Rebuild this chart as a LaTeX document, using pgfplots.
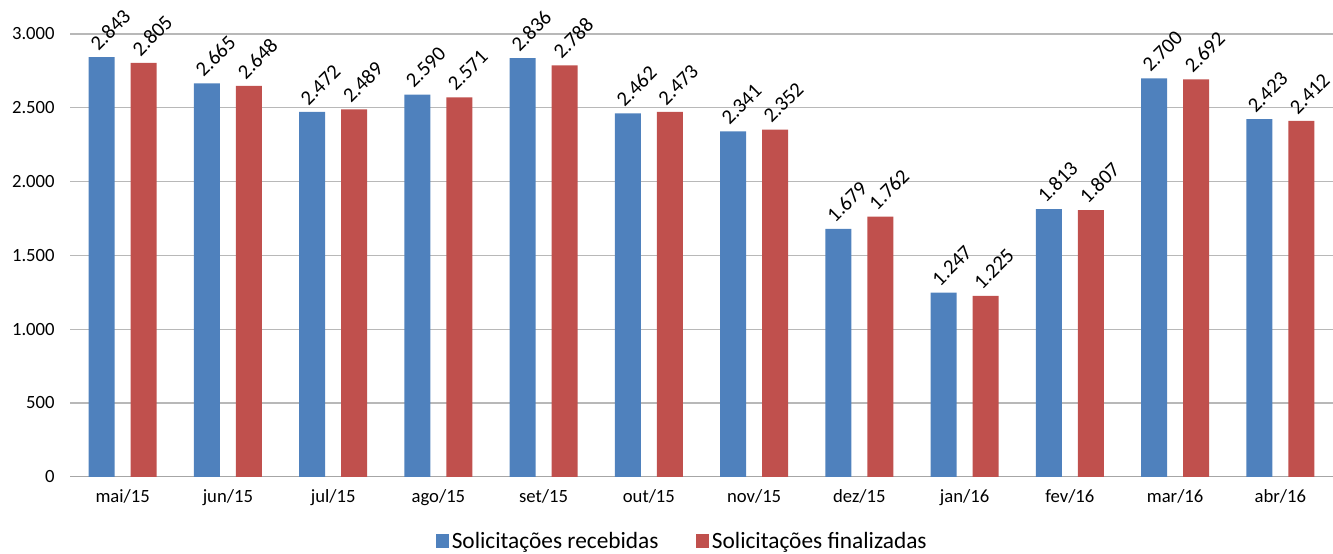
\documentclass[border=0pt]{standalone}
\usepackage{graphicx}
\usepackage{pgfplots}
\pgfplotsset{compat=1.18}
\usepackage{fontspec}
\setmainfont{Carlito}
\definecolor{cblue}{HTML}{4F81BD}
\definecolor{cred}{HTML}{C0504D}
\newcommand\vlab[1]{\fontsize{15.5}{17}\selectfont\rotatebox{45}{#1}}
\begin{document}
\begin{tikzpicture}
\begin{axis}[
  scale only axis, width=947pt, height=332pt,
  ybar=12pt, bar width=19.5pt,
  xmin=-0.5, xmax=11.5, ymin=0, ymax=3000,
  enlargelimits=false, clip=false,
  xtick={0,...,11},
  xticklabels={mai/15,jun/15,jul/15,ago/15,set/15,out/15,nov/15,dez/15,jan/16,fev/16,mar/16,abr/16},
  ytick={0,500,...,3000},
  ymajorgrids, grid style={draw=black!28, line width=0.8pt},
  axis lines*=left,
  y axis line style={draw=none},
  x axis line style={draw=black!35, line width=0.8pt, -},
  major tick length=0pt,
  tick label style={font=\fontsize{14}{16}\selectfont},
  xticklabel style={yshift=-6pt},
  yticklabel style={xshift=-8pt},
  /pgf/number format/.cd, 1000 sep={.}, assume math mode=true,
  /pgfplots/.cd,
  nodes near coords={\vlab{\pgfmathprintnumber{\pgfplotspointmeta}}},
  nodes near coords style={anchor=south west, inner sep=0pt, xshift=-10pt, yshift=4pt},
  legend style={at={(0.485,-0.145)}, anchor=center, draw=none, legend columns=2,
    font=\fontsize{17.5}{19}\selectfont, /tikz/every even column/.append style={column sep=26pt}},
  legend image code/.code={\fill[#1, draw=none] (0pt,-5pt) rectangle (10pt,5pt);},
]
\addplot[fill=cblue, draw=none] coordinates {(0,2843) (1,2665) (2,2472) (3,2590) (4,2836) (5,2462) (6,2341) (7,1679) (8,1247) (9,1813) (10,2700) (11,2423)};
\addplot[fill=cred, draw=none] coordinates {(0,2805) (1,2648) (2,2489) (3,2571) (4,2788) (5,2473) (6,2352) (7,1762) (8,1225) (9,1807) (10,2692) (11,2412)};
\legend{Solicitações recebidas, Solicitações finalizadas}
\end{axis}
\pgfresetboundingbox
\path (current axis.south west) ++(-52.5pt,-57.75pt) coordinate (bl);
\path (current axis.north east) ++(0pt,25.5pt) coordinate (tr);
\path[use as bounding box] (bl) rectangle (tr);
\end{tikzpicture}
\end{document}
